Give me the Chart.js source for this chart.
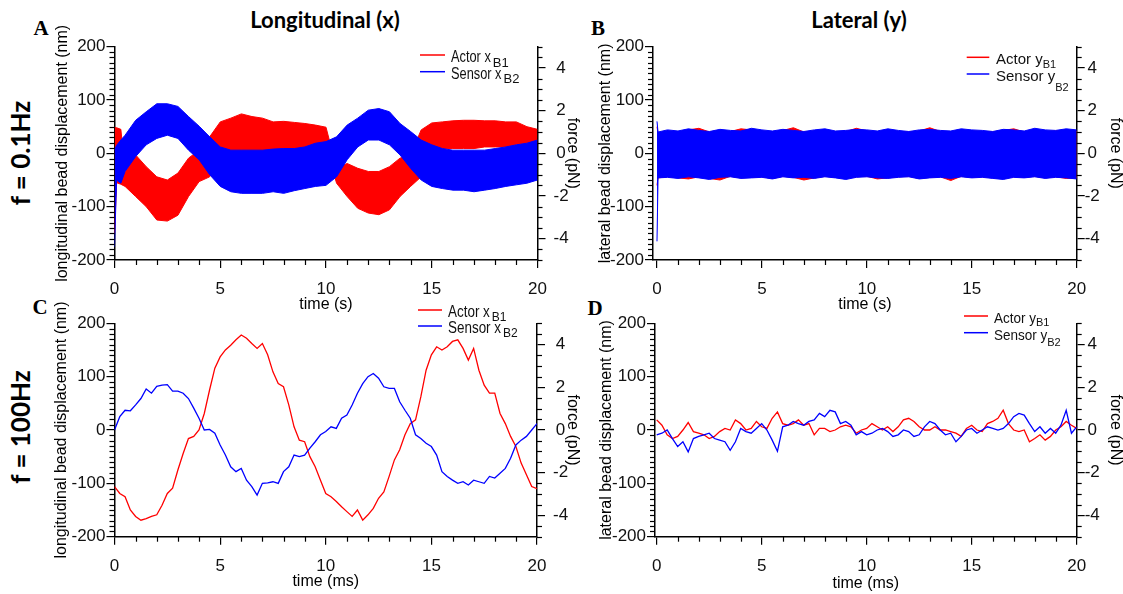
<!DOCTYPE html>
<html>
<head>
<meta charset="utf-8">
<script src="https://cdn.jsdelivr.net/npm/chart.js@4.4.0/dist/chart.umd.min.js"></script>
<style>
body{margin:0;background:#fff;width:1123px;height:594px;position:relative;overflow:hidden;font-family:"Liberation Sans",Arial,sans-serif}
canvas{position:absolute}
.lbl{position:absolute;transform:translate(-50%,-50%);white-space:nowrap;color:#000}
.head{font-family:Lato,"Open Sans",sans-serif;font-weight:bold;font-size:22px}
.freq{font-family:Lato,"Open Sans",sans-serif;font-weight:bold;font-size:26px;transform:translate(-50%,-50%) rotate(-90deg)}
.letter{font-family:"Liberation Serif","Times New Roman",serif;font-weight:bold;font-size:21px}
</style>
</head>
<body>
<div class="lbl head" style="left:325px;top:19px">Longitudinal (x)</div>
<div class="lbl head" style="left:859px;top:19px">Lateral (y)</div>
<div class="lbl letter" style="left:41px;top:28px">A</div>
<div class="lbl letter" style="left:598px;top:28px">B</div>
<div class="lbl letter" style="left:40px;top:307px">C</div>
<div class="lbl letter" style="left:595px;top:308px">D</div>
<div class="lbl freq" style="left:20px;top:153px">f = 0.1Hz</div>
<div class="lbl freq" style="left:20px;top:427px">f = 100Hz</div>
<canvas id="chartA" width="595" height="315" style="left:0px;top:0px"></canvas>
<canvas id="chartB" width="563" height="315" style="left:560px;top:0px"></canvas>
<canvas id="chartC" width="595" height="304" style="left:0px;top:290px"></canvas>
<canvas id="chartD" width="563" height="304" style="left:560px;top:290px"></canvas>
<script>
var RED = '#ff0000';
var BLUE = '#0000ff';

// axis ticks
var nmTicks = [-200, -100, 0, 100, 200];
var forceTicks = [-4, -2, 0, 2, 4];
var timeTicks = [0, 5, 10, 15, 20];

// A: f = 0.1 Hz, longitudinal, upper / lower edge of the noise band (nm)
var timeA = [0, 0.1, 0.3, 0.5, 1, 1.5, 2, 2.5, 3, 3.5, 4, 4.5, 5, 5.5, 6, 6.5, 7, 7.5, 8, 8.5, 9, 9.5, 10,
  10.5, 11, 11.5, 12, 12.5, 13, 13.5, 14, 14.5, 15, 15.5, 16, 16.5, 17, 17.5, 18, 18.5, 19, 19.5, 20];
var actorAHi = [49, 48, 45, -34, -3, -25, -44, -50, -37, -9, 6, 31, 59, 66, 74, 69, 66, 59, 60, 58, 56, 53, 49,
  -28, -19, -28, -34, -34, -25, -9, -3, 44, 57, 59, 61, 62, 62, 61, 61, 59, 59, 50, 45];
var actorALo = [-150, -55, -58, -62, -81, -100, -125, -127, -116, -81, -53, -44, 6, 3, 0, 0, 3, 6, 6, 6, 9, 12, 12,
  -56, -81, -103, -112, -115, -106, -81, -62, -44, 9, 9, 9, 9, 9, 12, 12, 12, 16, 19, 19];
var sensorAHi = [6, 15, 25, 34, 62, 78, 93, 93, 88, 69, 51, 31, 12, 6, 6, 6, 6, 8, 9, 9, 12, 19, 22,
  31, 53, 66, 81, 84, 78, 56, 41, 25, 16, 9, 6, 6, 6, 6, 9, 12, 16, 19, 25];
var sensorALo = [-175, -50, -56, -34, -6, 16, 28, 34, 28, 6, -12, -40, -62, -72, -75, -75, -75, -72, -75, -70, -66, -62, -60,
  -44, -12, 12, 25, 25, 16, -3, -28, -50, -62, -66, -69, -69, -72, -69, -66, -62, -59, -56, -50];

// B: f = 0.1 Hz, lateral
var timeB = [0, 0.05, 0.5, 1, 1.5, 2, 2.5, 3, 3.5, 4, 4.5, 5, 5.5, 6, 6.5, 7, 7.5, 8, 8.5, 9, 9.5, 10,
  10.5, 11, 11.5, 12, 12.5, 13, 13.5, 14, 14.5, 15, 15.5, 16, 16.5, 17, 17.5, 18, 18.5, 19, 19.5, 20];
var actorBHi = [50, 38, 42, 40, 44, 47, 40, 43, 41, 46, 44, 42, 40, 43, 48, 40, 42, 44, 40, 41, 47, 42,
  40, 44, 41, 40, 42, 48, 41, 40, 44, 42, 41, 40, 43, 46, 40, 45, 41, 42, 44, 41];
var actorBLo = [-60, -46, -44, -46, -48, -44, -47, -50, -43, -46, -45, -44, -47, -43, -45, -50, -46, -43, -45, -47, -44, -43,
  -48, -46, -44, -43, -47, -45, -44, -51, -43, -45, -44, -46, -47, -44, -45, -43, -46, -44, -47, -46];
var sensorBHi = [60, 40, 44, 42, 46, 43, 41, 45, 43, 42, 47, 44, 42, 45, 43, 41, 44, 46, 42, 43, 45, 44,
  42, 46, 43, 41, 44, 45, 43, 42, 46, 44, 43, 41, 45, 44, 42, 47, 44, 43, 46, 44];
var sensorBLo = [-165, -46, -45, -47, -44, -46, -49, -45, -44, -47, -46, -45, -48, -44, -46, -45, -47, -44, -46, -49, -45, -44,
  -46, -47, -45, -44, -48, -46, -45, -47, -44, -46, -45, -47, -49, -45, -46, -44, -47, -45, -46, -48];

// C, D: f = 100 Hz (time in ms)
var timeMs = [0, 0.25, 0.5, 0.75, 1, 1.25, 1.5, 1.75, 2, 2.25, 2.5, 2.75, 3, 3.25, 3.5, 3.75, 4, 4.25, 4.5, 4.75,
  5, 5.25, 5.5, 5.75, 6, 6.25, 6.5, 6.75, 7, 7.25, 7.5, 7.75, 8, 8.25, 8.5, 8.75, 9, 9.25, 9.5, 9.75,
  10, 10.25, 10.5, 10.75, 11, 11.25, 11.5, 11.75, 12, 12.25, 12.5, 12.75, 13, 13.25, 13.5, 13.75, 14, 14.25, 14.5, 14.75,
  15, 15.25, 15.5, 15.75, 16, 16.25, 16.5, 16.75, 17, 17.25, 17.5, 17.75, 18, 18.25, 18.5, 18.75, 19, 19.25, 19.5, 19.75, 20];
var actorC = [-106, -119, -125, -150, -162, -169, -166, -162, -159, -141, -119, -109, -75, -44, -16, -12, 0, 31, 75, 116,
  137, 150, 159, 169, 178, 172, 162, 153, 162, 141, 109, 87, 81, 47, 6, -19, -22, -50, -69, -94,
  -119, -125, -134, -144, -153, -162, -150, -169, -159, -147, -128, -116, -87, -56, -37, -9, 12, 19, 62, 112,
  141, 156, 150, 156, 166, 169, 153, 131, 153, 112, 84, 69, 69, 31, 12, -12, -31, -62, -84, -106, -110];
var sensorC = [0, 25, 37, 36, 47, 59, 77, 69, 82, 84, 85, 73, 73, 69, 59, 41, 22, 0, 1, -6,
  -28, -47, -69, -78, -72, -94, -106, -122, -100, -99, -97, -100, -78, -69, -47, -50, -47, -34, -22, -9,
  -3, 6, 3, 22, 28, 47, 69, 87, 100, 106, 97, 81, 78, 78, 53, 37, 22, -9, -16, -25,
  -31, -47, -78, -87, -94, -100, -97, -103, -94, -97, -100, -87, -90, -81, -72, -53, -28, -19, -12, 0, 12];
var actorD = [19, 9, -9, -16, -12, 0, 14, -3, -6, -9, -16, -12, -3, 3, 0, 19, 12, 0, 3, 16,
  6, 3, 22, 34, 12, 9, 12, 19, 9, 12, -9, 3, 3, -3, 0, 6, 9, 6, -6, 0,
  3, 12, 6, 0, 6, -3, 6, 19, 22, 16, 6, 0, 0, 6, 0, 0, -3, -6, -12, 3,
  9, 0, -3, 12, 16, 22, 37, 12, 0, -3, 0, -22, -16, -9, -19, -12, 0, 6, 16, 9, 3];
var sensorD = [-9, -6, 0, -16, -31, -22, -41, -16, -12, -9, -6, -16, -19, -22, -38, -22, 3, -3, -6, 3,
  12, 0, -19, -40, 6, 9, 16, 12, 9, 16, 19, 31, 25, 37, 34, 12, 16, 9, -9, -3,
  -9, -6, 0, 3, -3, -12, -9, 0, -3, -12, -9, 6, 16, 12, 0, -9, -6, -22, -12, 0,
  3, -6, 0, 6, 3, 0, 3, 12, 25, 31, 28, 12, -3, 6, -6, 3, -6, 9, 37, -6, 6];

function pts(xs, ys){
  return xs.map(function(x, i){ return {x: x, y: ys[i]}; });
}

function fixTicks(list){
  return function(scale){
    scale.ticks = list.map(function(v){ return {value: v}; });
  };
}

var minorTicks = {
  id: 'minorTicks',
  afterDraw: function(chart, args, o){
    var ctx = chart.ctx;
    var area = chart.chartArea;
    ctx.save();
    ctx.strokeStyle = '#000';
    ctx.lineWidth = 1.2;
    Object.keys(o.steps).forEach(function(id){
      var scale = chart.scales[id];
      var step = o.steps[id];
      var major = o.majors[id];
      var start = Math.ceil(scale.min / step - 1e-9);
      var end = Math.floor(scale.max / step + 1e-9);
      for (var i = start; i <= end; i++) {
        var v = i * step;
        if (Math.abs(v / major - Math.round(v / major)) < 1e-9) continue;
        var p = Math.round(scale.getPixelForValue(v)) + 0.5;
        ctx.beginPath();
        if (scale.position === 'bottom') {
          ctx.moveTo(p, area.bottom); ctx.lineTo(p, area.bottom + o.len);
        } else if (scale.position === 'left') {
          ctx.moveTo(area.left, p); ctx.lineTo(area.left - o.len, p);
        } else {
          ctx.moveTo(area.right, p); ctx.lineTo(area.right + o.len, p);
        }
        ctx.stroke();
      }
    });
    ctx.restore();
  }
};

var subLegend = {
  id: 'subLegend',
  afterDraw: function(chart, args, o){
    var ctx = chart.ctx;
    ctx.save();
    ctx.textBaseline = 'middle';
    o.items.forEach(function(it, i){
      var y = o.y + i * o.gap;
      ctx.strokeStyle = it.color;
      ctx.lineWidth = 1.5;
      ctx.beginPath();
      ctx.moveTo(o.x, y);
      ctx.lineTo(o.x + o.len, y);
      ctx.stroke();
      var tx = o.x + o.len + o.pad;
      ctx.fillStyle = '#111';
      ctx.font = o.size + 'px "Liberation Sans", Arial';
      var w = ctx.measureText(it.text).width * o.squeeze;
      ctx.save();
      ctx.translate(tx, y + 3);
      ctx.scale(o.squeeze, 1);
      ctx.fillText(it.text, 0, 0);
      ctx.restore();
      ctx.font = o.subSize + 'px "Liberation Sans", Arial';
      ctx.fillText(it.sub, tx + w + o.subGap, y + 3 + it.subDy);
    });
    ctx.restore();
  }
};

function axisTitle(text, pad, isBottom){
  return {
    display: true,
    text: text,
    color: '#000',
    font: {family: 'Liberation Sans', size: 16, lineHeight: 1},
    padding: isBottom ? {top: 0, bottom: pad} : {top: pad, bottom: 0}
  };
}

function makePanel(id, p){
  var tickFont = {family: 'Liberation Sans', size: 17, lineHeight: 1};
  var grid = {drawOnChartArea: false, drawTicks: true, tickLength: 8, color: '#000', lineWidth: 1.2};
  var border = {display: true, color: '#000', width: 1.5};
  var datasets = [];
  p.series.forEach(function(s){
    datasets.push({
      data: s.data, yAxisID: 'y', borderColor: s.color, backgroundColor: s.color,
      borderWidth: s.width, pointRadius: 0, tension: 0, fill: s.fill
    });
  });
  new Chart(document.getElementById(id), {
    type: 'line',
    data: {datasets: datasets},
    options: {
      responsive: false,
      animation: false,
      devicePixelRatio: 1,
      layout: {padding: {top: p.top, left: 0, right: 0, bottom: 0}},
      plugins: {
        legend: {display: false},
        tooltip: {enabled: false},
        minorTicks: {steps: {x: 1, y: 10, y2: 0.5}, majors: {x: 5, y: 100, y2: 2}, len: 5},
        subLegend: p.legend
      },
      scales: {
        x: {
          type: 'linear', position: 'bottom', min: p.xMin, max: 20,
          afterBuildTicks: fixTicks(timeTicks),
          afterFit: function(s){ s.height = p.bottom; },
          ticks: {font: tickFont, color: '#111', padding: 13, autoSkip: false, maxRotation: 0},
          grid: grid, border: border,
          title: axisTitle(p.xTitle, p.xTitlePad, true)
        },
        y: {
          position: 'left', min: -200, max: 200,
          afterBuildTicks: fixTicks(nmTicks),
          afterFit: function(s){ s.width = p.left; },
          ticks: {font: tickFont, color: '#111', padding: 1, autoSkip: false},
          grid: grid, border: border,
          title: axisTitle(p.yTitle, p.yTitlePad, false)
        },
        y2: {
          position: 'right', min: -5, max: 5,
          afterBuildTicks: fixTicks(forceTicks),
          afterFit: function(s){ s.width = p.right; },
          ticks: {font: tickFont, color: '#111', padding: p.rightPad, autoSkip: false, crossAlign: 'center'},
          grid: grid, border: border,
          title: axisTitle('force (pN)', p.fTitlePad, false)
        }
      }
    },
    plugins: [minorTicks, subLegend]
  });
}

function bandSeries(t, aHi, aLo, sHi, sLo){
  return [
    {data: pts(t, sHi), color: BLUE, width: 1, fill: '+1'},
    {data: pts(t, sLo), color: BLUE, width: 1, fill: false},
    {data: pts(t, aHi), color: RED, width: 1, fill: '+1'},
    {data: pts(t, aLo), color: RED, width: 1, fill: false}
  ];
}

function lineSeries(t, actor, sensor){
  return [
    {data: pts(t, sensor), color: BLUE, width: 1.3, fill: false},
    {data: pts(t, actor), color: RED, width: 1.3, fill: false}
  ];
}

makePanel('chartA', {
  top: 46.7, left: 114.5, right: 57.5, bottom: 55, xMin: 0, rightPad: 8,
  xTitle: 'time (s)', xTitlePad: 2,
  yTitle: 'longitudinal bead displacement (nm)', yTitlePad: 55, fTitlePad: 15,
  series: bandSeries(timeA, actorAHi, actorALo, sensorAHi, sensorALo),
  legend: {x: 420, y: 55, len: 25, gap: 16.7, pad: 6, size: 16, subSize: 13, subGap: 2, squeeze: 0.8,
    items: [{text: 'Actor x', sub: 'B1', color: RED, subDy: 5}, {text: 'Sensor x', sub: 'B2', color: BLUE, subDy: 5}]}
});

makePanel('chartB', {
  top: 46.7, left: 93, right: 46.3, bottom: 55, xMin: -0.19, rightPad: 0,
  xTitle: 'time (s)', xTitlePad: 2,
  yTitle: 'lateral bead displacement (nm)', yTitlePad: 38, fTitlePad: 0,
  series: bandSeries(timeB, actorBHi, actorBLo, sensorBHi, sensorBLo),
  legend: {x: 406.7, y: 57.3, len: 22.6, gap: 16.7, pad: 6.7, size: 15, subSize: 11, subGap: 0, squeeze: 1,
    items: [{text: 'Actor y', sub: 'B1', color: RED, subDy: 5}, {text: 'Sensor y', sub: 'B2', color: BLUE, subDy: 11}]}
});

makePanel('chartC', {
  top: 33.3, left: 114.5, right: 58, bottom: 57.3, xMin: 0, rightPad: 8,
  xTitle: 'time (ms)', xTitlePad: 4,
  yTitle: 'longitudinal bead displacement (nm)', yTitlePad: 54, fTitlePad: 15,
  series: lineSeries(timeMs, actorC, sensorC),
  legend: {x: 418, y: 20, len: 24, gap: 16, pad: 6, size: 16, subSize: 12, subGap: 2, squeeze: 0.84,
    items: [{text: 'Actor x', sub: 'B1', color: RED, subDy: 5}, {text: 'Sensor x', sub: 'B2', color: BLUE, subDy: 5}]}
});

makePanel('chartD', {
  top: 33.3, left: 95, right: 46.3, bottom: 57.3, xMin: -0.08, rightPad: 0,
  xTitle: 'time (ms)', xTitlePad: 2,
  yTitle: 'lateral bead displacement (nm)', yTitlePad: 39, fTitlePad: 0,
  series: lineSeries(timeMs, actorD, sensorD),
  legend: {x: 404, y: 26, len: 24, gap: 16.7, pad: 6, size: 15, subSize: 11, subGap: 0, squeeze: 0.9,
    items: [{text: 'Actor y', sub: 'B1', color: RED, subDy: 4}, {text: 'Sensor y', sub: 'B2', color: BLUE, subDy: 7}]}
});
</script>
</body>
</html>
